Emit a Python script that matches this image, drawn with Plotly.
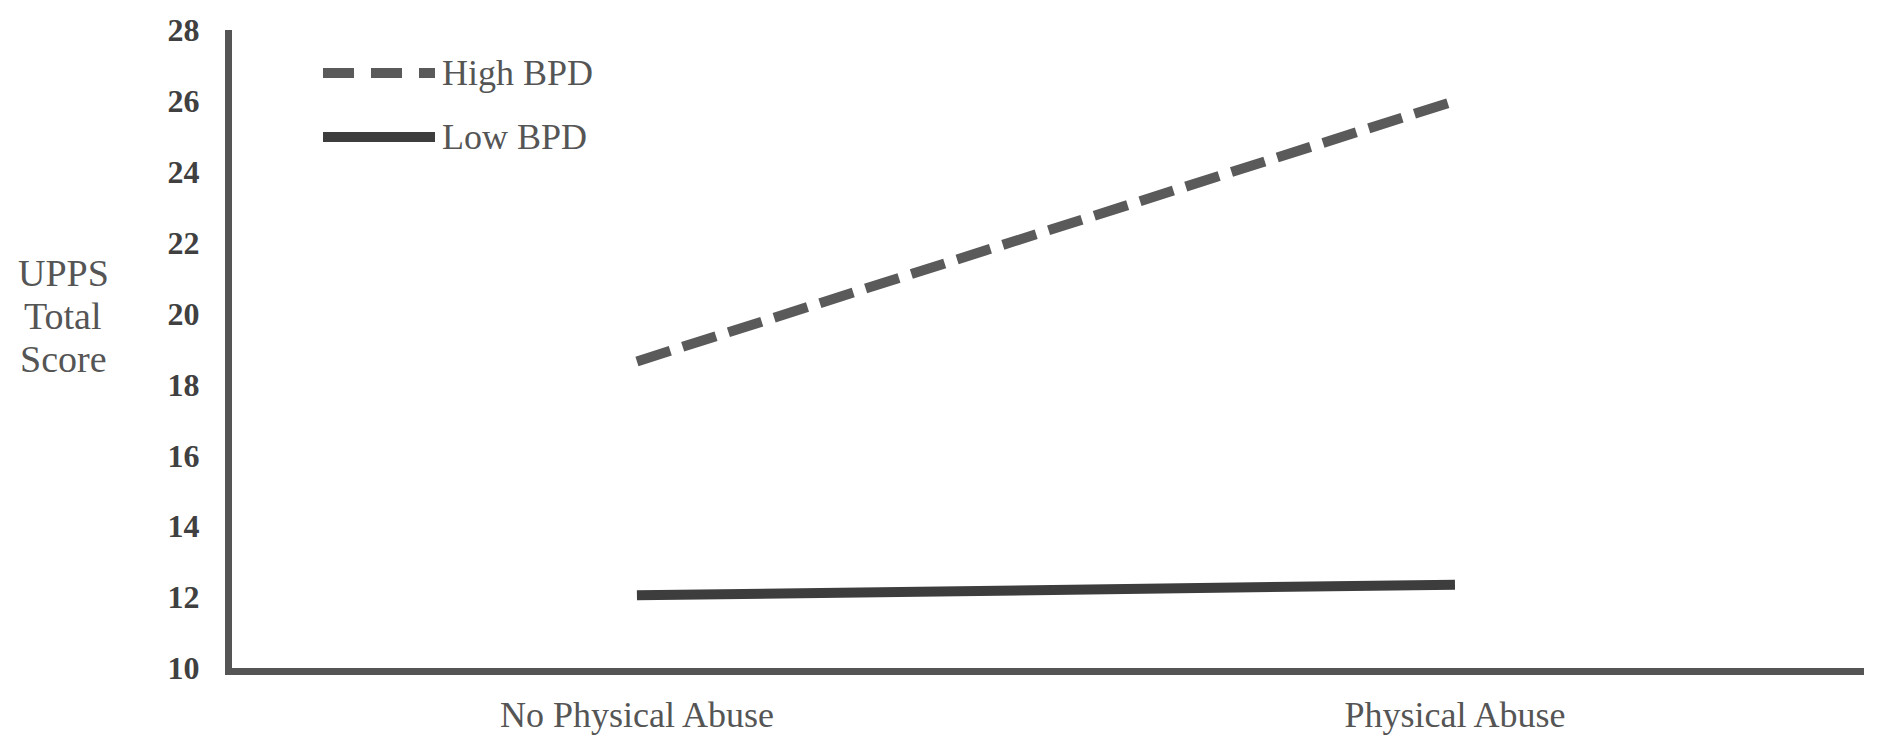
import plotly.graph_objects as go

categories = ["No Physical Abuse", "Physical Abuse"]
high_bpd = [18.65, 26.0]
low_bpd = [12.05, 12.35]
y_ticks = [10, 12, 14, 16, 18, 20, 22, 24, 26, 28]
series_names = ["High BPD", "Low BPD"]
y_title_lines = ["UPPS", "Total", "Score"]

W, H = 1883, 749
L, R, T, B = 232, 19, 30, 81
PW, PH = W - L - R, H - T - B

def px_x(x):
    return (x - L) / PW

def px_y(y):
    return (H - B - y) / PH

FONT = "Liberation Serif"
DASHED = "#5a5a5a"
SOLID = "#3d3d3d"
TEXT = "#555555"

fig = go.Figure()
fig.add_trace(go.Scatter(x=categories, y=high_bpd, mode="lines", name=series_names[0],
                         line=dict(color=DASHED, width=10, dash="35px,13px"),
                         showlegend=False, hoverinfo="skip"))
fig.add_trace(go.Scatter(x=categories, y=low_bpd, mode="lines", name=series_names[1],
                         line=dict(color=SOLID, width=10),
                         showlegend=False, hoverinfo="skip"))

# custom legend (long samples as in the reference)
legend_rows = [(73, DASHED, "31px,17px,31px,17px"), (137, SOLID, "solid")]
for (ypx, col, dash), name in zip(legend_rows, series_names):
    fig.add_shape(type="line", xref="paper", yref="paper",
                  x0=px_x(323), x1=px_x(435), y0=px_y(ypx), y1=px_y(ypx),
                  line=dict(color=col, width=10, dash=dash))
    fig.add_annotation(xref="paper", yref="paper", x=px_x(440), y=px_y(ypx),
                       xanchor="left", yanchor="middle", showarrow=False,
                       text=name, font=dict(family=FONT, size=36, color=TEXT))

# y-axis title (horizontal, three lines)
for line_text, ypx in zip(y_title_lines, [273, 316, 359]):
    fig.add_annotation(xref="paper", yref="paper", x=px_x(63), y=px_y(ypx),
                       xanchor="center", yanchor="middle", showarrow=False,
                       text=line_text,
                       font=dict(family=FONT, size=38, color=TEXT))

fig.update_layout(
    width=W, height=H,
    margin=dict(l=L, r=R, t=T, b=B),
    paper_bgcolor="white", plot_bgcolor="white",
    showlegend=False,
    xaxis=dict(type="category", range=[-0.495, 1.5], showgrid=False, zeroline=False,
               showline=True, linecolor="#555555", linewidth=7, ticks="",
               automargin=False, ticklabelstandoff=9,
               tickfont=dict(family=FONT, size=36, color=TEXT)),
    yaxis=dict(range=[10, 28], tickvals=y_ticks, showgrid=False, zeroline=False,
               showline=True, linecolor="#555555", linewidth=7, ticks="",
               automargin=False, ticklabelstandoff=19,
               tickfont=dict(family=FONT, size=32, color="#404040", weight="bold")),
)

fig.write_html("out.html", config={"displayModeBar": False},
               post_script="document.body.style.margin='0';document.body.style.padding='0';")
